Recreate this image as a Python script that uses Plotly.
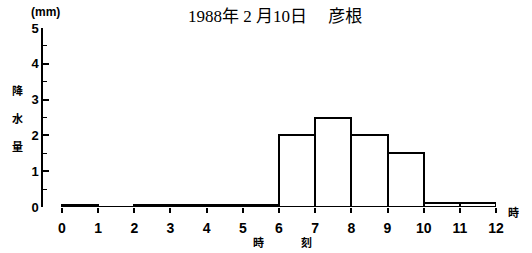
import plotly.graph_objects as go

hours_start = [0, 1, 2, 3, 4, 5, 6, 7, 8, 9, 10, 11]
rain_mm = [0.05, 0.0, 0.05, 0.05, 0.05, 0.06, 2.0, 2.5, 2.0, 1.5, 0.1, 0.1]
x_ticks = list(range(0, 13))
y_ticks = [0, 1, 2, 3, 4, 5]
title_text = "1988年 2 月10日　 彦根"

x_font = dict(family="Liberation Sans Narrow, Liberation Sans, Arial", size=14, color="black", weight="bold")
y_font = dict(family="Liberation Sans Narrow, Liberation Sans, Arial", size=13, color="black", weight="bold")
cjk_font = dict(family="Noto Sans CJK JP", size=11, color="black", weight="bold")

fig = go.Figure()
fig.add_trace(go.Bar(
    x=[h + 0.5 for h in hours_start], y=rain_mm, width=1,
    marker=dict(color="white", line=dict(color="black", width=2)),
    showlegend=False, hoverinfo="skip",
))

fig.add_shape(type="line", xref="x", yref="y", x0=0, x1=12, y0=0, y1=0,
              line=dict(color="black", width=1.3), layer="below")

W, H = 532, 253
l, r, t, b = 43, 36, 28, 46
pw, ph = W - l - r, H - t - b

fig.update_layout(
    width=W, height=H,
    margin=dict(l=l, r=r, t=t, b=b),
    paper_bgcolor="white", plot_bgcolor="white",
    bargap=0,
    xaxis=dict(range=[-0.525, 12], tickvals=x_ticks, ticktext=[str(v) for v in x_ticks],
               showline=False, showgrid=False, zeroline=False,
               ticks="outside", ticklen=5, tickwidth=1.5, tickcolor="black",
               tickfont=x_font, ticklabelstandoff=3),
    yaxis=dict(range=[0, 5], tickvals=y_ticks, showline=True, linecolor="black", linewidth=1.5,
               showgrid=False, zeroline=False,
               ticks="inside", ticklen=6, tickwidth=1.5, tickcolor="black",
               tickfont=y_font,
               minor=dict(dtick=0.5, ticks="inside", ticklen=4, tickwidth=1.2, tickcolor="black")),
)

# pixel-positioned labels -> paper coordinates
labels = [
    (title_text, 275, 17, dict(family="Liberation Serif, Noto Sans CJK JP", size=17, color="black")),
    ("(mm)", 45, 12, dict(family="Liberation Sans", size=12, color="black", weight="bold")),
    ("降", 17, 90, cjk_font),
    ("水", 17, 118, cjk_font),
    ("量", 17, 146, cjk_font),
    ("時", 513, 212, cjk_font),
    ("時", 258, 242, cjk_font),
    ("刻", 306, 242, cjk_font),
]
for txt, px, py, f in labels:
    fig.add_annotation(text=txt, xref="paper", yref="paper",
                       x=(px - l) / pw, y=(H - b - py) / ph,
                       xanchor="center", yanchor="middle", showarrow=False, font=f)

fig.write_html("out.html", config={"displayModeBar": False},
               post_script="document.body.style.margin='0';document.body.style.overflow='hidden';")
